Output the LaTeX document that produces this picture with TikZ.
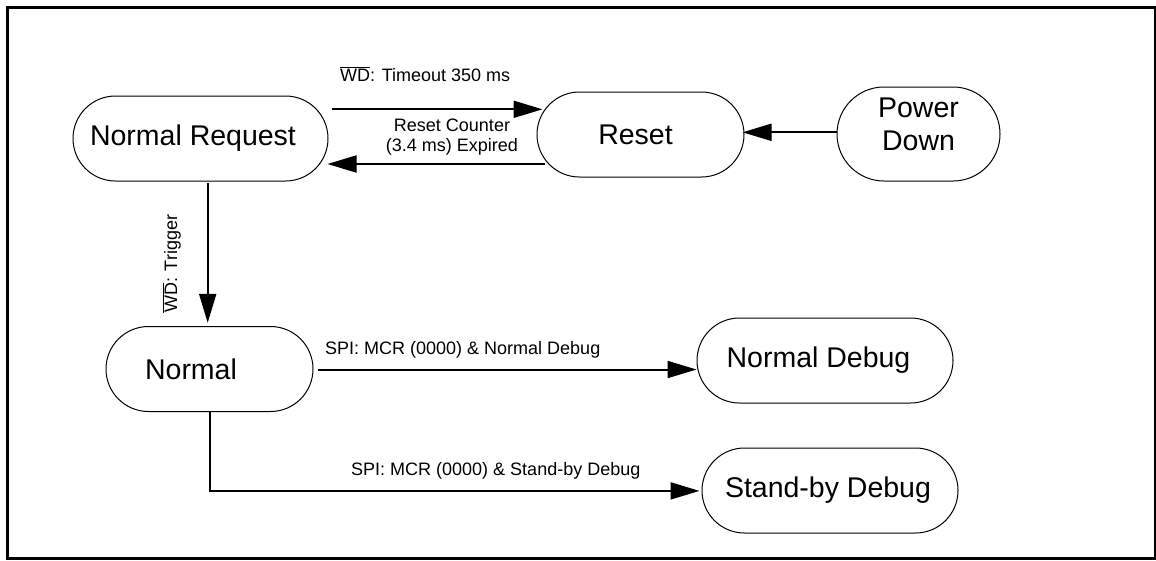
\documentclass[tikz,border=0pt]{standalone}
\usepackage{fontspec}
\setmainfont{Liberation Sans}
\usetikzlibrary{arrows.meta}
\newcommand{\bigf}{\fontsize{28.5}{32.6}\selectfont}
\newcommand{\smallf}{\fontsize{18}{20}\selectfont}
\newcommand{\wdbar}{$\overline{\hbox{WD}}$}
\tikzset{
  pill/.style={draw, line width=1pt, rectangle, inner sep=0pt, font=\bigf},
  arr/.style={line width=2pt, -{Triangle[length=29pt,width=17pt]}},
  lbl/.style={font=\smallf, inner sep=0pt},
}
\begin{document}
\begin{tikzpicture}[x=1pt,y=-1pt]
\useasboundingbox (0,0) rectangle (1156,560);
\draw[line width=2.5pt] (7.5,7.5) rectangle (1154.75,558.5);

\node[pill, minimum width=255pt, minimum height=85pt, rounded corners=42.5pt] (nr) at (200.5,138.5) {\hspace*{-15pt}Normal Request};
\node[pill, minimum width=207pt, minimum height=85pt, rounded corners=42.5pt] (rs) at (640.5,134.5) {\hspace*{-10pt}Reset};
\node[pill, minimum width=163pt, minimum height=94pt, rounded corners=47pt] (pd) at (918.5,134) {\raisebox{6.5pt}[\height][\depth]{\begin{tabular}{@{}c@{}}Power\\Down\end{tabular}}};
\node[pill, minimum width=207pt, minimum height=85pt, rounded corners=42.5pt] (nm) at (209.5,369) {\hspace*{-37pt}Normal};
\node[pill, minimum width=256pt, minimum height=85pt, rounded corners=42.5pt] (nd) at (825,360.5) {\hspace*{-13pt}Normal Debug};
\node[pill, minimum width=256pt, minimum height=85pt, rounded corners=42.5pt] (sd) at (830,490.5) {\hspace*{-4pt}Stand-by Debug};

\draw[arr, shorten <=3pt, shorten >=-6pt] (nr.east |- 0,109.3) -- (rs.west |- 0,109.3);
\draw[arr, shorten <=-8pt, shorten >=-1pt] (rs.west |- 0,164) -- (nr.east |- 0,164);
\draw[arr, shorten >=-2pt] (pd.west |- 0,132.3) -- (rs.east |- 0,132.3);
\draw[arr, shorten <=1.7pt, shorten >=3.2pt] (nr.south -| 207.7,0) -- (nm.north -| 207.7,0);
\draw[arr, shorten <=4pt] (nm.east |- 0,369.5) -- (nd.west |- 0,369.5);
\draw[arr, shorten >=2pt] (nm.south -| 210,0) |- (sd.west |- 0,490.9);

\node[lbl, anchor=base west] (l1) at (340,81) {\wdbar: Timeout 350 ms};
\node[lbl, align=center] (l2) at (452,137) {Reset Counter\\(3.4 ms) Expired};
\node[lbl, anchor=base west, rotate=90] (l3) at (177,313) {\wdbar: Trigger};
\node[lbl, anchor=base west] (l4) at (325,354) {SPI: MCR (0000) \& Normal Debug};
\node[lbl, anchor=base west] (l5) at (351,475.4) {SPI: MCR (0000) \& Stand-by Debug};
\end{tikzpicture}
\end{document}
